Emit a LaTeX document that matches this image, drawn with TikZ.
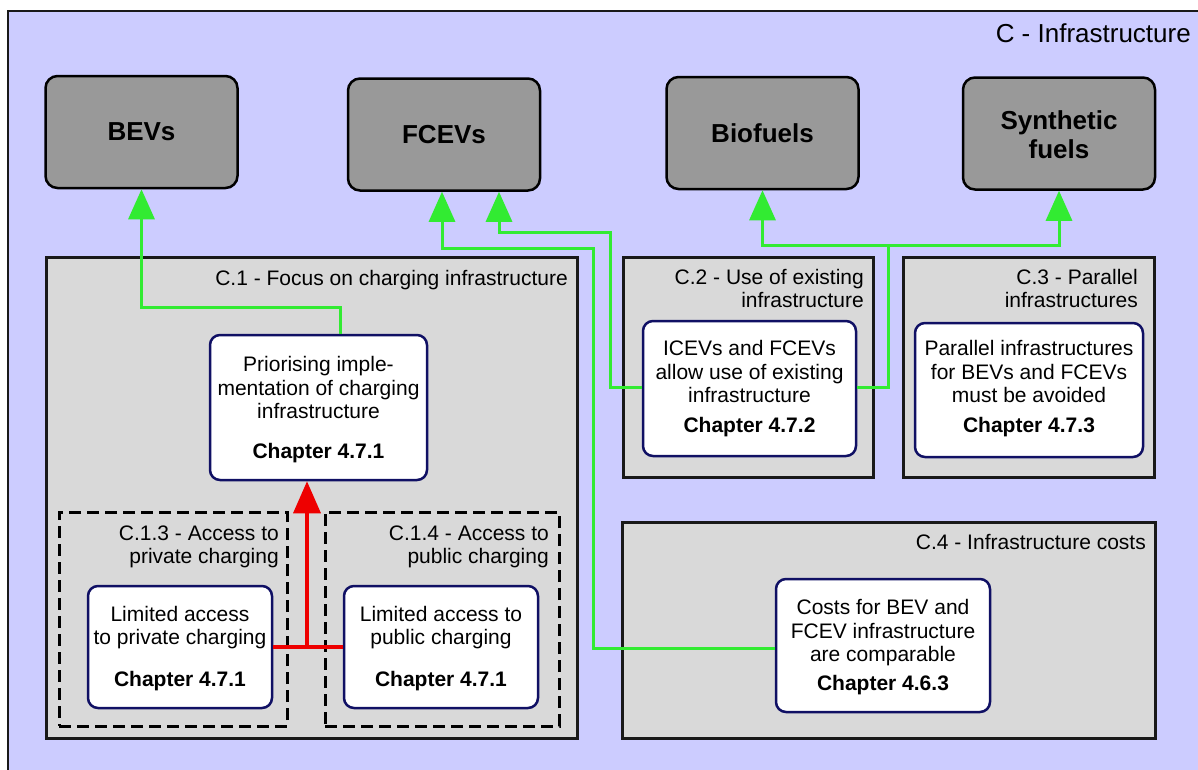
\documentclass[tikz,border=0pt]{standalone}
\usepackage{fontspec}
\setmainfont{Liberation Sans}
\usetikzlibrary{arrows.meta}
\definecolor{lilac}{RGB}{204,204,255}
\definecolor{boxgray}{RGB}{217,217,217}
\definecolor{topgray}{RGB}{153,153,153}
\definecolor{navy}{RGB}{16,16,100}
\definecolor{lgreen}{RGB}{50,235,50}
\definecolor{lred}{RGB}{238,0,0}
\begin{document}
\begin{tikzpicture}[x=1pt,y=-1pt,
  txt/.style={font=\fontsize{21}{23.5}\selectfont, align=center, inner sep=0pt},
  lbl/.style={font=\fontsize{21}{23.5}\selectfont, align=right, inner sep=0pt, anchor=east},
  toptxt/.style={font=\fontsize{26}{29}\selectfont\bfseries, align=center, inner sep=0pt},
  topbox/.style={draw=black, line width=2.5pt, fill=topgray, rounded corners=12pt, minimum width=192pt, minimum height=112pt, inner sep=0pt, font=\fontsize{26}{29}\selectfont\bfseries, align=center},
  grp/.style={draw=black!90, line width=3pt, fill=boxgray, inner sep=0pt},
  dgrp/.style={draw=black, line width=3pt, dash pattern=on 12pt off 6pt, inner sep=0pt},
  wbox/.style={draw=navy, line width=2.5pt, fill=white, rounded corners=10pt, inner sep=0pt},
  garrow/.style={draw=lgreen, line width=3pt, -{Triangle[length=30pt,width=26pt]}},
  rline/.style={draw=lred, line width=3.5pt},
  rarrow/.style={draw=lred, line width=3.5pt, -{Triangle[length=32pt,width=27pt]}},
]
\useasboundingbox (0,0) rectangle (1198,769);
\clip (0,0) rectangle (1198,769);
\fill[white] (0,0) rectangle (1198,769);
% outer frame
\draw[fill=lilac, draw=black!90, line width=2.5pt] (8,11) rectangle (1220,790);
\node[lbl, font=\fontsize{26}{29}\selectfont] (ctitle) at (1191,36.5) {\strut C - Infrastructure};

% top boxes
\node[topbox] (bev) at (141.5,132) {BEVs};
\node[topbox] (fcev) at (444,134.5) {FCEVs};
\node[topbox] (bio) at (762.5,133) {Biofuels};
\node[topbox] (syn) at (1059,133.5) {};
\node[toptxt] (syntxt) at (1059,138) {\strut Synthetic\\\strut fuels};

% group boxes
\node[grp, minimum width=531pt, minimum height=481pt] (c1) at (311.5,497.5) {};
\node[grp, minimum width=250pt, minimum height=220pt] (c2) at (748,367) {};
\node[grp, minimum width=251pt, minimum height=220pt] (c3) at (1028.5,367) {};
\node[grp, minimum width=533pt, minimum height=216pt] (c4) at (888.5,630) {};
\node[dgrp, minimum width=228pt, minimum height=214pt] (d13) at (173,619) {};
\node[dgrp, minimum width=234pt, minimum height=214pt] (d14) at (442,619) {};

% group labels
\node[lbl] (c1l) at (568,280.5) {\strut C.1 - Focus on charging infrastructure};
\node[lbl] (c2l) at (864,291.5) {\strut C.2 - Use of existing\\\strut infrastructure};
\node[lbl] (c3l) at (1138,291.5) {\strut C.3 - Parallel\\\strut infrastructures};
\node[lbl] (c4l) at (1146,544.5) {\strut C.4 - Infrastructure costs};
\node[lbl] (d13l) at (279,547.5) {\strut C.1.3 - Access to\\\strut private charging};
\node[lbl] (d14l) at (549,547.5) {\strut C.1.4 - Access to\\\strut public charging};

% white boxes
\node[wbox, minimum width=217pt, minimum height=145pt] (prio) at (318.5,407.5) {};
\node[txt] (priot) at (318.5,410.5) {\strut Priorising imple-\\\strut mentation of charging\\\strut infrastructure\\[16.5pt]\strut\textbf{Chapter 4.7.1}};
\node[wbox, minimum width=184pt, minimum height=122pt] (lpriv) at (180,647) {};
\node[txt] (lprivt) at (180,649.5) {\strut Limited access\\\strut to private charging\\[18.5pt]\strut\textbf{Chapter 4.7.1}};
\node[wbox, minimum width=194pt, minimum height=122pt] (lpub) at (441,647) {};
\node[txt] (lpubt) at (441,649.5) {\strut Limited access to\\\strut public charging\\[18.5pt]\strut\textbf{Chapter 4.7.1}};
\node[wbox, minimum width=213pt, minimum height=135pt] (icev) at (749.5,388.5) {};
\node[txt] (icevt) at (749.5,389.5) {\strut ICEVs and FCEVs\\\strut allow use of existing\\\strut infrastructure\\[6.5pt]\strut\textbf{Chapter 4.7.2}};
\node[wbox, minimum width=228pt, minimum height=134pt] (par) at (1029,390) {};
\node[txt] (part) at (1029,389.5) {\strut Parallel infrastructures\\\strut for BEVs and FCEVs\\\strut must be avoided\\[6.5pt]\strut\textbf{Chapter 4.7.3}};
\node[wbox, minimum width=214pt, minimum height=133pt] (costs) at (883,645.5) {};
\node[txt] (costst) at (883,648) {\strut Costs for BEV and\\\strut FCEV infrastructure\\\strut are comparable\\[5.5pt]\strut\textbf{Chapter 4.6.3}};

% green connectors
\coordinate (k2) at (593,248);
\coordinate (k3) at (610,232);
\coordinate (k4) at (888,245);
\draw[garrow] ([xshift=21.5pt]prio.north) -- ++(0,-26) -| (bev.south);
\draw[garrow] ([yshift=-2.5pt]costs.west) -| (k2) -| ([xshift=-2pt]fcev.south);
\draw[garrow] ([yshift=1.5pt]icev.west) -| (k3) -| ([xshift=55pt]fcev.south);
\draw[garrow] ([yshift=1.5pt]icev.east) -| (k4) -| (bio.south);
\draw[garrow] (k4) -| (syn.south);

% red connectors
\coordinate (r1) at (307,647);
\draw[rline] (lpriv.east) -- (lpub.west);
\draw[rarrow] (r1) -- ([xshift=-11.5pt]prio.south);
\end{tikzpicture}
\end{document}
